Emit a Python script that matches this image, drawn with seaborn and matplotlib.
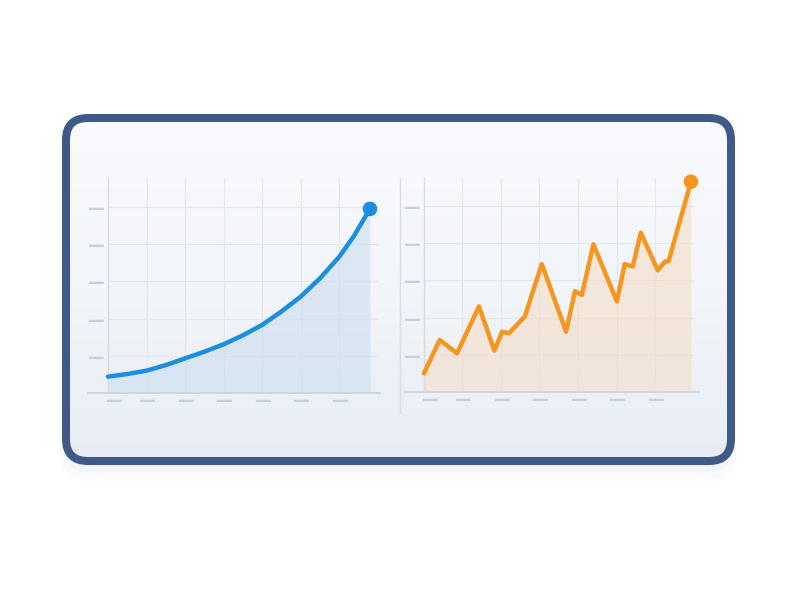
import matplotlib.pyplot as plt
import seaborn as sns
import numpy as np
from matplotlib.patches import FancyBboxPatch
from matplotlib.colors import LinearSegmentedColormap

# left panel: smooth growth curve (x in grid units, y in grid units)
growth_x = [0.0, 0.5, 1.0, 1.5, 2.0, 2.5, 3.0, 3.5, 4.0, 4.5, 5.0, 5.5, 6.0, 6.37, 6.8]
growth_y = [0.44, 0.51, 0.60, 0.75, 0.93, 1.11, 1.31, 1.55, 1.83, 2.19, 2.59, 3.08, 3.66, 4.20, 4.95]

# right panel: volatile upward series
volatile_x = [0.0, 0.41, 0.86, 1.43, 1.83, 2.03, 2.21, 2.62, 3.06, 3.69, 3.92,
              4.10, 4.40, 5.01, 5.21, 5.42, 5.63, 6.07, 6.26, 6.35, 6.93]
volatile_y = [0.50, 1.40, 1.04, 2.30, 1.11, 1.62, 1.58, 2.03, 3.44, 1.62, 2.71,
              2.61, 3.97, 2.43, 3.44, 3.37, 4.28, 3.27, 3.51, 3.51, 5.65]

grid_x = [1, 2, 3, 4, 5, 6]
grid_y = [1, 2, 3, 4, 5]
dash_x = [0.15, 1, 2, 3, 4, 5, 6]

BLUE = '#1b8de2'
ORANGE = '#f7961f'
GRID = '#e2e7ee'
AXIS = '#cfd6e0'
DASH = '#c6cfdc'

sns.set_style('white')
plt.rcParams['font.family'] = ['DejaVu Sans']

fig = plt.figure(figsize=(8, 6), dpi=100)
fig.patch.set_facecolor('white')

# background canvas in pixel coordinates
bg = fig.add_axes([0, 0, 1, 1], zorder=0)
bg.set_xlim(0, 800)
bg.set_ylim(600, 0)
bg.axis('off')

# soft shadow below the frame
for i, a in enumerate([0.05, 0.04, 0.03, 0.02]):
    sh = FancyBboxPatch((66 - i * 2, 124 + i * 3), 665 + i * 4, 343 + i * 2,
                        boxstyle='round,pad=0,rounding_size=24',
                        fc='#8ea2c0', ec='none', alpha=a)
    bg.add_patch(sh)

frame = FancyBboxPatch((66, 118), 665, 343, boxstyle='round,pad=0,rounding_size=22',
                       fc='none', ec='#3f5a87', lw=8 * 0.72, zorder=3)
bg.add_patch(frame)

# inner gradient fill
clip = FancyBboxPatch((66, 118), 665, 343, boxstyle='round,pad=0,rounding_size=22',
                      fc='none', ec='none', transform=bg.transData)
bg.add_patch(clip)
grad = np.linspace(0, 1, 256).reshape(-1, 1)
cmap = LinearSegmentedColormap.from_list('panel', ['#f9fafd', '#f2f5f9', '#e8edf5'])
im = bg.imshow(grad, extent=(66, 731, 461, 118), origin='upper', cmap=cmap,
               aspect='auto', zorder=1)
im.set_clip_path(clip)

# separator between the two charts
bg.plot([400, 400], [178, 413], color='#d8dee7', lw=1, zorder=2)


def style_axes(ax, xlim, ylim):
    ax.set_facecolor('none')
    ax.set_xlim(*xlim)
    ax.set_ylim(*ylim)
    for s in ['top', 'right']:
        ax.spines[s].set_visible(False)
    ax.spines['left'].set_position(('data', 0))
    ax.spines['left'].set_color('#d5dbe4')
    ax.spines['left'].set_linewidth(1.0)
    ax.spines['bottom'].set_color(AXIS)
    ax.spines['bottom'].set_linewidth(1.4)
    ax.vlines(grid_x, 0, ylim[1], color=GRID, lw=0.8, zorder=0.5)
    ax.hlines(grid_y, 0, 7.0, color=GRID, lw=0.8, zorder=0.5)
    ax.set_yticks(grid_y)
    ax.set_yticklabels(['—'] * len(grid_y), fontweight='bold')
    ax.set_xticks(dash_x)
    ax.set_xticklabels(['—'] * len(dash_x), fontweight='bold')
    ax.tick_params(axis='y', length=0, pad=3, labelsize=12, labelcolor=DASH)
    ax.tick_params(axis='x', length=0, pad=-1, labelsize=12, labelcolor=DASH)
    ax.set_xlabel('')
    ax.set_ylabel('')


ax1 = fig.add_axes([88 / 800, 1 - 393 / 600, 292 / 800, 215 / 600], zorder=2)
style_axes(ax1, (-0.52, 7.06), (0, 5.78))
ax1.fill_between(growth_x, growth_y, color='#c9dcef', alpha=0.55, lw=0, zorder=1)
sns.lineplot(x=growth_x, y=growth_y, ax=ax1, color=BLUE, linewidth=3.2, zorder=3,
             solid_joinstyle='round', solid_capstyle='round')
sns.scatterplot(x=[growth_x[-1]], y=[growth_y[-1]], ax=ax1, color=BLUE, s=110,
                edgecolor='none', zorder=4, clip_on=False)

ax2 = fig.add_axes([405 / 800, 1 - 392 / 600, 294 / 800, 214 / 600], zorder=2)
style_axes(ax2, (-0.49, 7.14), (0, 5.75))
ax2.fill_between(volatile_x, volatile_y, color='#f6d9bf', alpha=0.5, lw=0, zorder=1)
sns.lineplot(x=volatile_x, y=volatile_y, ax=ax2, color=ORANGE, linewidth=3.2, zorder=3,
             solid_joinstyle='round', solid_capstyle='round')
sns.scatterplot(x=[volatile_x[-1]], y=[volatile_y[-1]], ax=ax2, color=ORANGE, s=110,
                edgecolor='none', zorder=4, clip_on=False)

fig.savefig('out.png', dpi=100)
plt.close(fig)
